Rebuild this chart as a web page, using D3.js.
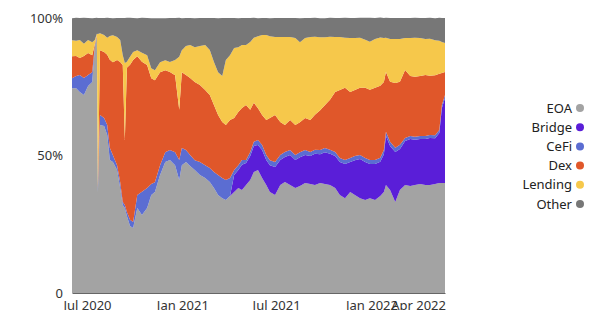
<!DOCTYPE html>
<html>
<head>
<meta charset="utf-8">
<script src="https://cdn.jsdelivr.net/npm/d3@7"></script>
<style>
  body { margin: 0; background: #fff; }
  text { font-family: "Noto Sans", sans-serif; }
</style>
</head>
<body>
<div id="chart"></div>
<script>
// dates of each sample
const dates = [
  "2020-06-02", "2020-06-10", "2020-06-17", "2020-06-25", "2020-07-03", "2020-07-11", "2020-07-16", "2020-07-20", "2020-07-22", "2020-07-26",
  "2020-08-03", "2020-08-09", "2020-08-14", "2020-08-20", "2020-08-28", "2020-09-03", "2020-09-08", "2020-09-12", "2020-09-16", "2020-09-22",
  "2020-09-28", "2020-10-06", "2020-10-15", "2020-10-25", "2020-11-02", "2020-11-09", "2020-11-19", "2020-11-29", "2020-12-08", "2020-12-18",
  "2020-12-26", "2020-12-31", "2021-01-08", "2021-01-16", "2021-01-25", "2021-02-04", "2021-02-14", "2021-02-23", "2021-03-03", "2021-03-11",
  "2021-03-19", "2021-03-26", "2021-04-03", "2021-04-11", "2021-04-19", "2021-04-26", "2021-05-04", "2021-05-12", "2021-05-19", "2021-05-27",
  "2021-06-04", "2021-06-12", "2021-06-19", "2021-06-29", "2021-07-09", "2021-07-18", "2021-07-28", "2021-08-07", "2021-08-16", "2021-08-26",
  "2021-09-05", "2021-09-14", "2021-09-24", "2021-10-03", "2021-10-13", "2021-10-23", "2021-11-01", "2021-11-11", "2021-11-21", "2021-11-30",
  "2021-12-10", "2021-12-20", "2021-12-29", "2022-01-08", "2022-01-18", "2022-01-25", "2022-01-29", "2022-02-06", "2022-02-16", "2022-02-25",
  "2022-03-07", "2022-03-17", "2022-03-26", "2022-04-05", "2022-04-15", "2022-04-24", "2022-05-04", "2022-05-12", "2022-05-17", "2022-05-23"
];

// share of volume, percent
const eoa = [
  74.5, 74.5, 73.1, 72.0, 75.3, 76.7, 89.1, 93.5, 36.7, 61.1,
  60.7, 57.5, 48.4, 47.6, 44.7, 38.2, 32.0, 30.9, 28.0, 24.4,
  23.6, 30.9, 28.4, 30.9, 35.6, 36.7, 42.9, 47.6, 48.4, 46.5,
  41.1, 46.5, 47.6, 46.2, 44.7, 42.9, 41.8, 40.4, 38.2, 35.6,
  34.5, 33.8, 35.3, 36.7, 38.2, 37.5, 39.3, 41.1, 44.0, 44.7,
  41.8, 39.3, 36.7, 35.6, 39.3, 40.4, 39.3, 38.2, 38.9, 40.0,
  39.6, 39.3, 40.0, 39.6, 39.3, 38.2, 35.6, 34.5, 36.7, 35.6,
  34.5, 33.8, 34.5, 33.8, 35.3, 36.7, 39.3, 37.5, 33.1, 37.5,
  39.3, 38.9, 39.3, 39.6, 39.3, 39.3, 39.6, 40.0, 40.0, 40.0
];
const bridge = [
  0, 0, 0, 0, 0, 0, 0, 0, 0, 0,
  0, 0, 0, 0, 0, 0, 0, 0, 0, 0,
  0, 0, 0, 0, 0, 0, 0, 0, 0, 0,
  0, 0, 0, 0, 0, 0, 0, 0, 0, 0,
  0, 0, 0, 6.2, 6.5, 9.1, 8.0, 8.7, 9.5, 9.1,
  10.2, 9.1, 9.8, 10.2, 9.1, 9.1, 10.9, 10.2, 10.5, 10.2,
  10.2, 11.3, 10.5, 11.6, 11.3, 11.6, 12.0, 12.4, 10.9, 12.7,
  14.2, 13.8, 12.4, 13.1, 12.4, 13.8, 17.8, 16.0, 18.2, 14.9,
  16.0, 17.1, 16.4, 16.4, 16.7, 17.1, 16.7, 18.2, 27.3, 30.9
];
const cefi = [
  3.6, 4.4, 6.2, 6.2, 4.0, 3.6, 0.7, 0, 1.5, 3.6,
  2.9, 3.6, 4.4, 2.5, 1.8, 2.2, 1.1, 1.1, 1.5, 2.2,
  2.2, 4.7, 8.4, 7.3, 4.0, 3.6, 3.6, 3.6, 3.6, 4.7,
  7.3, 6.2, 4.4, 4.0, 3.6, 4.7, 4.7, 5.1, 5.8, 7.3,
  7.3, 7.3, 6.5, 1.8, 1.8, 1.8, 1.1, 1.5, 1.5, 1.8,
  1.8, 1.8, 1.8, 1.8, 1.8, 1.8, 1.8, 1.8, 1.8, 1.8,
  1.5, 1.5, 1.5, 1.5, 1.5, 1.5, 1.5, 1.5, 1.5, 1.5,
  1.5, 1.5, 1.5, 1.5, 1.5, 1.5, 1.5, 1.5, 1.5, 1.5,
  1.1, 1.1, 1.1, 1.1, 1.1, 1.1, 1.1, 1.1, 1.1, 1.1
];
const dex = [
  8.0, 7.3, 6.2, 8.0, 8.0, 6.2, 0.7, 0.4, 1.1, 23.6,
  24.0, 25.5, 32.0, 33.8, 38.2, 43.6, 49.8, 23.6, 52.4, 56.4,
  58.9, 50.5, 47.3, 44.7, 38.5, 37.1, 33.8, 29.8, 28.4, 28.0,
  18.2, 27.6, 27.3, 28.0, 28.4, 28.0, 27.3, 26.5, 24.4, 21.8,
  20.4, 20.0, 21.1, 18.9, 19.3, 18.9, 20.0, 15.3, 14.2, 11.6,
  10.9, 12.7, 15.3, 17.1, 12.0, 9.8, 10.9, 10.9, 10.9, 11.6,
  11.6, 12.7, 14.5, 15.6, 18.2, 21.8, 24.7, 26.2, 24.0, 24.0,
  24.4, 25.5, 25.5, 26.2, 26.2, 24.7, 21.8, 21.8, 23.6, 22.9,
  24.7, 21.8, 21.8, 21.8, 22.2, 21.5, 21.8, 20.4, 11.6, 8.4
];
const lending = [
  5.8, 5.5, 6.5, 4.4, 4.7, 4.7, 1.5, 0.4, 54.9, 6.2,
  6.2, 6.2, 8.7, 9.8, 8.4, 8.0, 3.6, 28.0, 2.2, 2.9,
  2.9, 2.2, 3.3, 3.6, 3.6, 3.6, 3.6, 3.6, 3.6, 5.5,
  19.3, 8.0, 10.5, 12.0, 12.7, 14.2, 16.4, 16.4, 15.6, 15.6,
  16.7, 23.6, 23.6, 25.5, 23.6, 22.9, 21.8, 24.7, 23.6, 26.2,
  29.1, 30.9, 29.8, 28.4, 30.9, 32.0, 30.2, 31.6, 29.1, 29.1,
  30.2, 28.4, 26.5, 24.7, 22.9, 20.0, 19.3, 18.2, 19.6, 18.9,
  18.2, 17.5, 17.5, 17.8, 17.5, 16.0, 12.4, 15.6, 16.0, 15.6,
  11.6, 13.8, 14.2, 13.8, 13.1, 13.5, 12.7, 12.0, 11.3, 10.5
];
const other = [
  8.0, 8.4, 8.0, 9.5, 8.0, 8.7, 8.0, 5.8, 5.8, 5.5,
  6.2, 7.3, 6.5, 6.2, 6.9, 8.0, 13.5, 16.4, 16.0, 14.2,
  12.4, 11.6, 12.7, 13.5, 18.2, 18.9, 16.0, 15.3, 16.0, 15.3,
  14.2, 11.6, 10.2, 9.8, 10.5, 10.2, 9.8, 11.6, 16.0, 19.6,
  21.1, 15.3, 13.5, 10.9, 10.5, 9.8, 9.8, 8.7, 7.3, 6.5,
  6.2, 6.2, 6.5, 6.9, 6.9, 6.9, 6.9, 7.3, 8.7, 7.3,
  6.9, 6.9, 6.9, 6.9, 6.9, 6.9, 6.9, 7.3, 7.3, 7.3,
  7.3, 8.0, 8.7, 7.6, 7.3, 7.3, 7.3, 7.6, 7.6, 7.6,
  7.3, 7.3, 7.3, 7.3, 7.6, 7.6, 8.0, 8.4, 8.7, 9.1
];

const keys = ["EOA", "Bridge", "CeFi", "Dex", "Lending", "Other"];
const colors = ["#a3a3a3", "#5a1ed8", "#5b6dd2", "#e0572a", "#f6c84b", "#777777"];
const xTicks = ["2020-07-01", "2021-01-01", "2021-07-01", "2022-01-01", "2022-04-01"];
const yTicks = [0, 50, 100];

const parse = d3.timeParse("%Y-%m-%d");
const data = dates.map(function (d, i) {
  return {
    date: parse(d),
    EOA: eoa[i],
    Bridge: bridge[i],
    CeFi: cefi[i],
    Dex: dex[i],
    Lending: lending[i],
    Other: other[i],
  };
});

// set the dimensions and margins of the graph
const W = 600, H = 310;
const margin = { top: 18, right: 155, bottom: 17, left: 72 },
  width = W - margin.left - margin.right,
  height = H - margin.top - margin.bottom;

const svg = d3
  .select("#chart")
  .append("svg")
  .attr("width", W)
  .attr("height", H);

const g = svg.append("g").attr("transform", `translate(${margin.left},${margin.top})`);

const x = d3
  .scaleTime()
  .domain(d3.extent(data, (d) => d.date))
  .range([0, width]);

const y = d3.scaleLinear().domain([0, 100]).range([height, 0]);

const color = d3.scaleOrdinal().domain(keys).range(colors);

const stacked = d3.stack().keys(keys)(data);

const area = d3
  .area()
  .x((d) => x(d.data.date))
  .y0((d) => y(d[0]))
  .y1((d) => y(d[1]));

g.selectAll(".layer")
  .data(stacked)
  .enter()
  .append("path")
  .attr("class", "layer")
  .attr("fill", (d) => color(d.key))
  .attr("d", area);

// X axis (labels run off the bottom edge, as in the original)
const xAxis = g
  .append("g")
  .attr("transform", `translate(0,${height})`)
  .call(
    d3
      .axisBottom(x)
      .tickValues(xTicks.map(parse))
      .tickFormat(d3.timeFormat("%b %Y"))
      .tickSize(0)
      .tickPadding(8)
  );
xAxis.select(".domain").attr("stroke", "#666").attr("stroke-width", 1.2);
xAxis.selectAll("text").attr("fill", "#333").style("font-size", "13px");

// Y axis
const yAxis = g.append("g").call(
  d3
    .axisLeft(y)
    .tickValues(yTicks)
    .tickFormat((d) => (d === 0 ? "0" : d + "%"))
    .tickSize(0)
    .tickPadding(9)
);
yAxis.select(".domain").remove();
yAxis.selectAll("text").attr("fill", "#333").style("font-size", "13px");

// Legend
const legend = svg
  .append("g")
  .attr("transform", "translate(580,108)")
  .selectAll("g")
  .data(keys)
  .enter()
  .append("g")
  .attr("transform", (d, i) => `translate(0,${i * 19.2})`);

legend
  .append("circle")
  .attr("r", 4)
  .attr("fill", (d) => color(d));

legend
  .append("text")
  .attr("x", -8)
  .attr("dy", "0.35em")
  .attr("text-anchor", "end")
  .attr("fill", "#222")
  .style("font-size", "13px")
  .text((d) => d);
</script>
</body>
</html>
